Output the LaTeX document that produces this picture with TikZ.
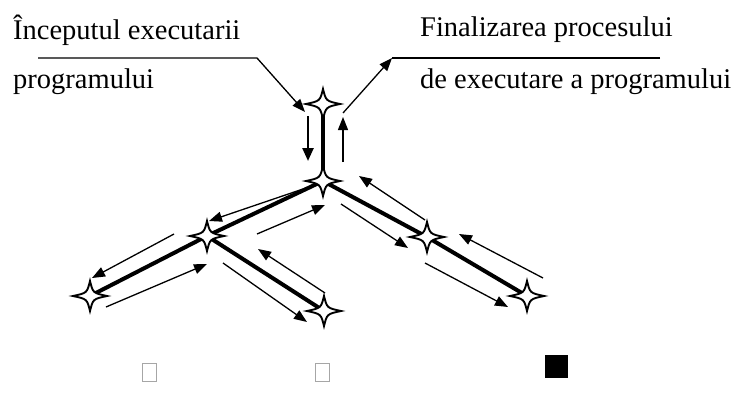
\documentclass[tikz,border=0pt]{standalone}
\usepackage{fontspec}
\setmainfont{Liberation Serif}
\usetikzlibrary{arrows.meta}
\tikzset{
  starpic/.pic={\draw[line width=1.9pt, fill=white, line join=miter] (17,0) .. controls (3,3) .. (0,15) .. controls (-3,3) .. (-17,0) .. controls (-3,-3) .. (0,-15) .. controls (3,-3) .. (17,0) -- cycle;},
  branch/.style={line width=4pt},
  plain/.style={line width=1.3pt},
  flow/.style={line width=1.3pt, -{Triangle[length=13pt,width=10pt]}},
  flowthick/.style={line width=2.4pt, -{Triangle[length=13pt,width=11pt]}},
  lbl/.style={font=\fontsize{28.5}{34}\selectfont, anchor=base west, inner sep=0pt},
  tofu/.style={draw=gray!70, line width=0.8pt, fill=white},
  tofufull/.style={draw=black, fill=black}
}
\begin{document}
\begin{tikzpicture}[x=1pt,y=-1pt]
\useasboundingbox (0,0) rectangle (743,396);
% labels
\node[lbl] (l1) at (13,40) {Începutul executarii};
\node[lbl] (l2) at (13,88) {programului};
\node[lbl] (r1) at (420,37) {Finalizarea procesului};
\node[lbl] (r2) at (420,88) {de executare a programului};
% star positions
\coordinate (s0) at (323,104);
\coordinate (s1) at (323,181);
\coordinate (s2) at (207,236);
\coordinate (s3) at (90,296);
\coordinate (s4) at (324,311);
\coordinate (s5) at (427,237);
\coordinate (s6) at (527,296);
% tree
\draw[branch] (s0) -- (s1);
\draw[branch] (s1) -- (s2);
\draw[branch] (s2) -- (s3);
\draw[branch] (s2) -- (s4);
\draw[branch] (s1) -- (s5);
\draw[branch] (s5) -- (s6);
% label pointers
\coordinate (p1a) at (38,58);
\coordinate (p1b) at (257,58);
\coordinate (p1c) at (305,112);
\draw[flow] (p1a) -- (p1b) -- (p1c);
\coordinate (p2a) at (660,58);
\coordinate (p2b) at (392,58);
\coordinate (p2c) at (343,113);
\draw[plain] (p2a) -- (p2b);
\draw[flow] (p2c) -- (p2b);
% vertical arrows
\coordinate (d1) at (308,116);
\coordinate (d2) at (308,161);
\draw[flowthick] (d1) -- (d2);
\coordinate (u1) at (343,162);
\coordinate (u2) at (343,117);
\draw[flow] (u1) -- (u2);
% branch arrows
\coordinate (a1) at (306,188); \coordinate (a2) at (209,221);
\draw[flow] (a1) -- (a2);
\coordinate (b1) at (257,234); \coordinate (b2) at (325,205);
\draw[flow] (b1) -- (b2);
\coordinate (c1) at (174,234); \coordinate (c2) at (92,278);
\draw[flow] (c1) -- (c2);
\coordinate (e1) at (106,307); \coordinate (e2) at (207,264);
\draw[flow] (e1) -- (e2);
\coordinate (f1) at (325,293); \coordinate (f2) at (258,249);
\draw[flow] (f1) -- (f2);
\coordinate (g1) at (223,263); \coordinate (g2) at (307,322);
\draw[flow] (g1) -- (g2);
\coordinate (h1) at (425,220); \coordinate (h2) at (359,176);
\draw[flow] (h1) -- (h2);
\coordinate (i1) at (341,204); \coordinate (i2) at (408,248);
\draw[flow] (i1) -- (i2);
\coordinate (j1) at (543,278); \coordinate (j2) at (459,234);
\draw[flow] (j1) -- (j2);
\coordinate (k1) at (425,263); \coordinate (k2) at (508,307);
\draw[flow] (k1) -- (k2);
% stars
\foreach \s in {s0,s1,s2,s3,s4,s5,s6} \pic at (\s) {starpic};
% bottom boxes
\draw[tofu] (142,363) rectangle (156,381);
\draw[tofu] (315,363) rectangle (329,381);
\draw[tofufull] (545,355) rectangle (567,377);
\end{tikzpicture}
\end{document}
